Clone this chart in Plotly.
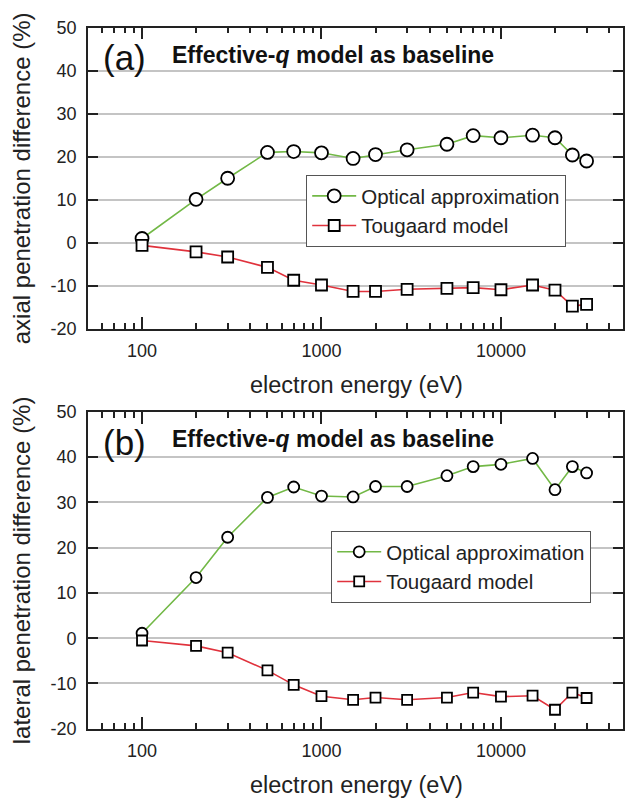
import numpy as np
import plotly.graph_objects as go

# ---------------- data ----------------
energy_eV = [100, 200, 300, 500, 700, 1000, 1500, 2000, 3000, 5000, 7000, 10000, 15000, 20000, 25000, 30000]

axial_optical = [1.0, 10.1, 15.0, 21.0, 21.2, 20.9, 19.6, 20.5, 21.6, 22.9, 24.9, 24.4, 25.0, 24.4, 20.4, 19.0]
axial_tougaard = [-0.6, -2.1, -3.3, -5.7, -8.7, -9.8, -11.3, -11.3, -10.8, -10.6, -10.4, -10.9, -9.8, -11.0, -14.7, -14.3]

lateral_optical = [1.1, 13.4, 22.3, 31.1, 33.4, 31.4, 31.2, 33.5, 33.5, 35.9, 37.9, 38.4, 39.7, 32.8, 37.9, 36.5]
lateral_tougaard = [-0.5, -1.7, -3.2, -7.1, -10.3, -12.8, -13.6, -13.1, -13.6, -13.1, -12.0, -12.9, -12.7, -15.8, -12.0, -13.2]

series_names = ["Optical approximation", "Tougaard model"]
y_ticks = [-20, -10, 0, 10, 20, 30, 40, 50]
y_ticktext = ["-20", "-10", "0", "10", "20", "30", "40", "50"]
x_ticks = [100, 1000, 10000]
x_ticktext = ["100", "1000", "10000"]
x_minor = [60, 70, 80, 90, 200, 300, 400, 500, 600, 700, 800, 900,
           2000, 3000, 4000, 5000, 6000, 7000, 8000, 9000, 20000, 30000, 40000]

panel_labels = ["(a)", "(b)"]
panel_title = "<b>Effective-<i>q</i> model as baseline</b>"
y_titles = ["axial penetration difference (%)", "lateral penetration difference (%)"]
x_title = "electron energy (eV)"

# ---------------- styling / layout ----------------
W, H = 625, 809
FONT = "Liberation Sans, Arial, sans-serif"
GREEN = "#72b846"
RED = "#e0323c"
AX = "#222222"

def px_x(p):
    return p / W

def px_y(p):
    return 1 - p / H

x_dom = [px_x(88), px_x(623)]
ya_dom = [px_y(327), px_y(18)]
yb_dom = [px_y(737), px_y(412)]

fig = go.Figure()

def add_panel(opt, tou, xa, ya, leg, msize_c, msize_s):
    fig.add_trace(go.Scatter(
        x=energy_eV, y=opt, mode="lines+markers", name=series_names[0],
        xaxis=xa, yaxis=ya, legend=leg,
        line=dict(color=GREEN, width=1.6),
        marker=dict(symbol="circle", size=msize_c, color="white",
                    line=dict(color="black", width=1.8)),
    ))
    fig.add_trace(go.Scatter(
        x=energy_eV, y=tou, mode="lines+markers", name=series_names[1],
        xaxis=xa, yaxis=ya, legend=leg,
        line=dict(color=RED, width=1.6),
        marker=dict(symbol="square", size=msize_s, color="white",
                    line=dict(color="black", width=1.8)),
    ))

add_panel(axial_optical, axial_tougaard, "x", "y", "legend", 13, 11)
add_panel(lateral_optical, lateral_tougaard, "x2", "y2", "legend2", 11, 10)

xrange_log = [np.log10(50), 4.680]

def xaxis_cfg(anchor):
    return dict(
        type="log", domain=x_dom, anchor=anchor, range=xrange_log,
        tickvals=x_ticks, ticktext=x_ticktext,
        ticks="inside", ticklen=12, tickwidth=1.5, tickcolor=AX,
        minor=dict(tickvals=x_minor, ticks="inside", ticklen=6, tickwidth=1.5,
                   tickcolor=AX, showgrid=False),
        showline=True, linewidth=1.8, linecolor=AX, mirror="ticks",
        showgrid=False, zeroline=False,
        tickfont=dict(family=FONT, size=18, color="#222"),
        ticklabelstandoff=5,
    )

def yaxis_cfg(anchor, dom):
    return dict(
        domain=dom, anchor=anchor, range=[-20, 50],
        tickvals=y_ticks, ticktext=y_ticktext,
        ticks="inside", ticklen=10, tickwidth=1.8, tickcolor=AX,
        showline=True, linewidth=1.8, linecolor=AX, mirror="ticks",
        showgrid=True, gridcolor="#c4c4c4", gridwidth=1.5, zeroline=False,
        tickfont=dict(family=FONT, size=18, color="#222"),
        ticklabelstandoff=6,
    )

legend_common = dict(
    xanchor="left", yanchor="top",
    bgcolor="white", bordercolor="#555", borderwidth=1.2,
    font=dict(family=FONT, size=20.5, color="#222"),
    tracegroupgap=0, itemwidth=44,
)

fig.update_layout(
    width=W, height=H,
    margin=dict(l=0, r=0, t=0, b=0),
    paper_bgcolor="white", plot_bgcolor="white",
    font=dict(family=FONT, color="#222"),
    xaxis=xaxis_cfg("y"),
    yaxis=yaxis_cfg("x", ya_dom),
    xaxis2=xaxis_cfg("y2"),
    yaxis2=yaxis_cfg("x2", yb_dom),
    legend=dict(x=px_x(306), y=px_y(169), **legend_common),
    legend2=dict(x=px_x(331), y=px_y(534), **legend_common),
    showlegend=True,
)

annotations = []
for i, (top, bottom) in enumerate([(18, 327), (412, 737)]):
    annotations.append(dict(
        text=panel_labels[i], xref="paper", yref="paper",
        x=px_x(101), y=px_y(top + 31), xanchor="left", yanchor="middle",
        showarrow=False, font=dict(family=FONT, size=35, color="#111"),
    ))
    annotations.append(dict(
        text=panel_title, xref="paper", yref="paper",
        x=px_x(170), y=px_y(top + 28), xanchor="left", yanchor="middle",
        showarrow=False, font=dict(family=FONT, size=23, color="#111"),
    ))
    annotations.append(dict(
        text=y_titles[i], xref="paper", yref="paper", textangle=-90,
        x=px_x(21), y=px_y((top + bottom) / 2), xanchor="center", yanchor="middle",
        showarrow=False, font=dict(family=FONT, size=24, color="#222"),
    ))
    annotations.append(dict(
        text=x_title, xref="paper", yref="paper",
        x=px_x(356), y=px_y(bottom + 58), xanchor="center", yanchor="middle",
        showarrow=False, font=dict(family=FONT, size=23.5, color="#222"),
    ))
fig.update_layout(annotations=annotations)

fig.write_html("out.html", config={"displayModeBar": False},
               post_script="document.body.style.margin='0px';")
